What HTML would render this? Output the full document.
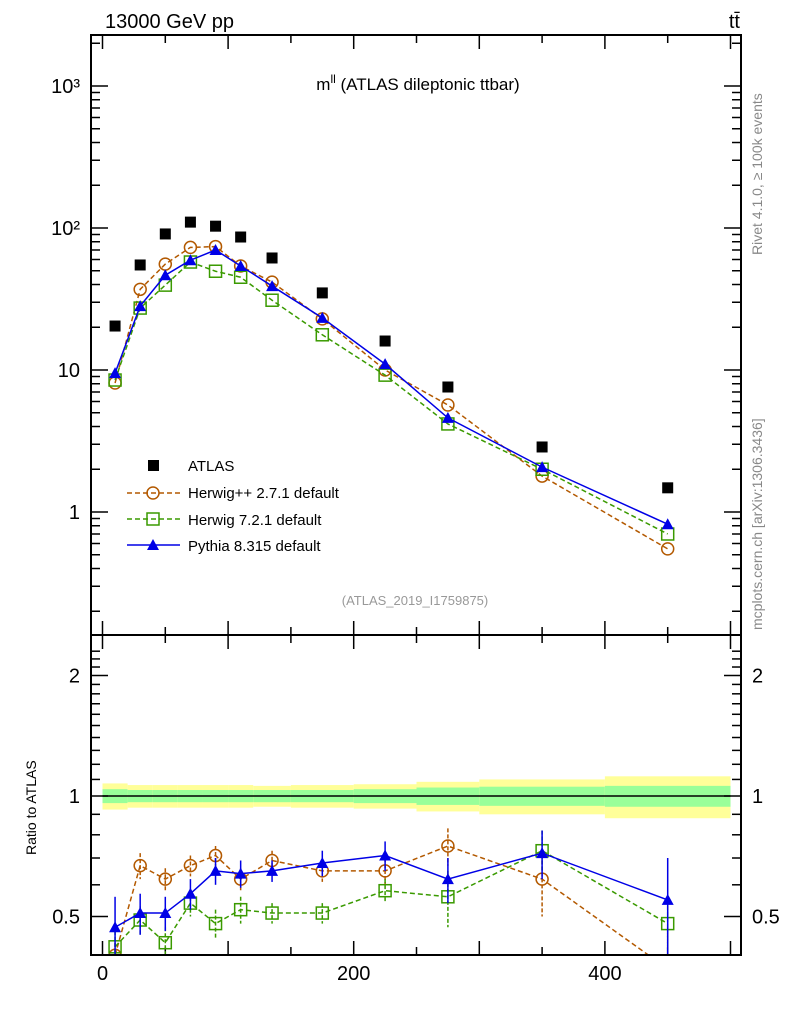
<!DOCTYPE html>
<html><head><meta charset="utf-8"><style>
body{margin:0;background:#fff}
svg{display:block;font-family:"Liberation Sans",sans-serif}
</style></head><body>
<svg id="c" width="786" height="1024" xmlns="http://www.w3.org/2000/svg">
<rect width="786" height="1024" fill="#fff"/>
<g id="bands"></g>
<g id="grid"></g>
<g id="series"></g>
<rect x="91" y="35" width="650" height="600" fill="none" stroke="#000" stroke-width="2"/>
<rect x="91" y="635" width="650" height="320" fill="none" stroke="#000" stroke-width="2"/>
<text x="105" y="28" font-size="20">13000 GeV pp</text>
<text x="740" y="28" font-size="20" text-anchor="end">tt̄</text>
<text x="418" y="90" font-size="17" text-anchor="middle">m<tspan font-size="12" dy="-7">ll</tspan><tspan dy="7"> (ATLAS dileptonic ttbar)</tspan></text>
<text x="415" y="605" font-size="13" fill="#999" text-anchor="middle">(ATLAS_2019_I1759875)</text>
<text transform="translate(762,255) rotate(-90)" font-size="14" fill="#888">Rivet 4.1.0, ≥ 100k events</text>
<text transform="translate(762,630) rotate(-90)" font-size="14" fill="#888">mcplots.cern.ch [arXiv:1306.3436]</text>
<text transform="translate(36,855) rotate(-90)" font-size="14">Ratio to ATLAS</text>
<g id="legend">
<rect x="148" y="460" width="11" height="11" fill="#000"/>
<text x="188" y="471" font-size="15">ATLAS</text>
<line x1="127" y1="493" x2="180" y2="493" stroke="#b35900" stroke-width="1.5" stroke-dasharray="5,3"/>
<circle cx="153" cy="493" r="6" fill="none" stroke="#b35900" stroke-width="1.5"/>
<text x="188" y="498" font-size="15">Herwig++ 2.7.1 default</text>
<line x1="127" y1="519" x2="180" y2="519" stroke="#3a9a00" stroke-width="1.5" stroke-dasharray="5,3"/>
<rect x="147" y="513" width="12" height="12" fill="none" stroke="#3a9a00" stroke-width="1.5"/>
<text x="188" y="525" font-size="15">Herwig 7.2.1 default</text>
<line x1="127" y1="545" x2="180" y2="545" stroke="#0000e6" stroke-width="1.5"/>
<path d="M147,550 L159,550 L153,539 Z" fill="#0000e6"/>
<text x="188" y="551" font-size="15">Pythia 8.315 default</text>
</g>
</svg>
<script>
const xs=[10,30,50,70,90,110,135,175,225,275,350,450];
const edges=[0,20,40,60,80,100,120,150,200,250,300,400,500];
const atlas=[20.4,54.9,90.8,110,103,86.4,61.5,34.9,16.0,7.59,2.87,1.48];
const herwigpp=[8.1,37,55.7,73,74,54,41.6,22.9,10,5.67,1.79,0.55];
const herwig7=[8.5,27.3,39.6,57.6,49.6,45,31,17.7,9.2,4.17,2.0,0.7];
const pythia=[9.5,28.2,46.5,59.3,70,54,39,23.3,11,4.6,2.07,0.82];
const rHpp=[0.40,0.67,0.62,0.67,0.71,0.62,0.69,0.65,0.65,0.75,0.62,0.37];
const rH7=[0.42,0.49,0.43,0.54,0.48,0.52,0.51,0.51,0.58,0.56,0.73,0.48];
const rPy=[0.47,0.51,0.51,0.57,0.65,0.64,0.65,0.68,0.71,0.62,0.72,0.55];
const errHpp=[0.03,0.05,0.04,0.04,0.04,0.04,0.04,0.04,0.05,0.08,0.12,0.1];
const errH7=[0.04,0.04,0.04,0.04,0.04,0.04,0.03,0.03,0.04,0.09,0.09,0.07];
const errPy=[0.09,0.06,0.05,0.05,0.05,0.05,0.04,0.05,0.06,0.08,0.1,0.15];
const bandInner=[0.04,0.035,0.035,0.035,0.035,0.035,0.035,0.035,0.04,0.05,0.055,0.06];
const bandOuter=[0.075,0.065,0.065,0.065,0.065,0.065,0.06,0.065,0.07,0.085,0.1,0.12];
const xTicks=[0,200,400];
const yTicks=[[1000,'10³'],[100,'10²'],[10,'10'],[1,'1']];
const rTicks=[2,1,0.5];

const NS='http://www.w3.org/2000/svg';
const X=v=>102.5+v*1.256;
const Y=v=>512-142*Math.log10(v);
const R=v=>796-120.5*Math.log2(v);
function mk(p,t,a){const e=document.createElementNS(NS,t);for(const k in a)e.setAttribute(k,a[k]);p.appendChild(e);return e;}
const G=document.getElementById('grid'),S=document.getElementById('series'),B=document.getElementById('bands');

edges.slice(0,-1).forEach((e,i)=>{
  const o=mk(B,'rect',{x:X(e),y:R(1+bandOuter[i]),width:X(edges[i+1])-X(e),height:R(1-bandOuter[i])-R(1+bandOuter[i]),fill:'#ffff99'});
  
  
  const n=mk(B,'rect',{x:X(e),y:R(1+bandInner[i]),width:X(edges[i+1])-X(e),height:R(1-bandInner[i])-R(1+bandInner[i]),fill:'#99ff99'});
  
  
});
mk(B,'line',{x1:X(0),x2:X(500),y1:R(1),y2:R(1),stroke:'#000','stroke-width':1.5});

for(let v=0;v<=500;v+=50){
  const L=(v%100===0)?14:8;
  [[635,-1],[955,-1],[35,1]].forEach(([y,d])=>{mk(G,'line',{x1:X(v),x2:X(v),y1:y,y2:y+d*L,stroke:'#000','stroke-width':1.5});});
  mk(G,'line',{x1:X(v),x2:X(v),y1:635,y2:635+L,stroke:'#000','stroke-width':1.5});
}
xTicks.forEach(v=>{const t=mk(G,'text',{x:X(v),y:980,'font-size':20,'text-anchor':'middle'});t.textContent=v;

});
for(let d=-1;d<=3;d++)for(let m=1;m<=9;m++){const v=m*Math.pow(10,d);const y=Y(v);if(y<35||y>635)continue;const L=m===1?17:9;
  mk(G,'line',{x1:91,x2:91+L,y1:y,y2:y,stroke:'#000','stroke-width':1.5});mk(G,'line',{x1:741,x2:741-L,y1:y,y2:y,stroke:'#000','stroke-width':1.5});}
yTicks.forEach(([v,l])=>{const t=mk(G,'text',{x:80,y:Y(v)+7,'font-size':20,'text-anchor':'end'});t.textContent=l;

});
for(let v=0.2;v<=2.35;v+=0.1){const vv=Math.round(v*10)/10;const y=R(vv);if(y<635||y>955)continue;const L=(vv===1||vv===2||vv===0.5)?17:9;
  mk(G,'line',{x1:91,x2:91+L,y1:y,y2:y,stroke:'#000','stroke-width':1.5});mk(G,'line',{x1:741,x2:741-L,y1:y,y2:y,stroke:'#000','stroke-width':1.5});}
rTicks.forEach(v=>{[[80,'end'],[752,'start']].forEach(([x,a])=>{const t=mk(G,'text',{x:x,y:R(v)+7,'font-size':20,'text-anchor':a});t.textContent=v;

});});

const defs=mk(S,'defs',{});
const c1=mk(defs,'clipPath',{id:'cm'});mk(c1,'rect',{x:91,y:35,width:650,height:600});
const c2=mk(defs,'clipPath',{id:'cr'});mk(c2,'rect',{x:91,y:635,width:650,height:320});
const gm=mk(S,'g',{'clip-path':'url(#cm)'}),gr=mk(S,'g',{'clip-path':'url(#cr)'});

function marker(g,x,y,type,col,name){
  let e;
  if(type==='c')e=mk(g,'circle',{cx:x,cy:y,r:6,fill:'none',stroke:col,'stroke-width':1.5});
  else if(type==='s')e=mk(g,'rect',{x:x-6,y:y-6,width:12,height:12,fill:'none',stroke:col,'stroke-width':1.5});
  else if(type==='t')e=mk(g,'path',{d:`M${x-6},${y+5}L${x+6},${y+5}L${x},${y-6}Z`,fill:col});
  else e=mk(g,'rect',{x:x-5.5,y:y-5.5,width:11,height:11,fill:col});
  
  
}
function series(g,vals,yf,type,col,dash,name,errs){
  const pts=xs.map((x,i)=>X(x)+','+yf(vals[i])).join(' ');
  const l=mk(g,'polyline',{points:pts,fill:'none',stroke:col,'stroke-width':1.5});
  if(dash)l.setAttribute('stroke-dasharray','5,3');
  
  
  xs.forEach((x,i)=>{
    if(errs){mk(g,'line',{x1:X(x),x2:X(x),y1:yf(vals[i]+errs[i]),y2:yf(Math.max(0.05,vals[i]-errs[i])),stroke:col,'stroke-width':1.5,'stroke-dasharray':dash?'4,2':''});}
    marker(g,X(x),yf(vals[i]),type,col,name+'-point');
  });
}
xs.forEach((x,i)=>marker(gm,X(x),Y(atlas[i]),'f','#000','atlas-point'));
series(gm,herwigpp,Y,'c','#b35900',true,'herwigpp');
series(gm,herwig7,Y,'s','#3a9a00',true,'herwig7');
series(gm,pythia,Y,'t','#0000e6',false,'pythia');
series(gr,rHpp,R,'c','#b35900',true,'ratio-herwigpp',errHpp);
series(gr,rH7,R,'s','#3a9a00',true,'ratio-herwig7',errH7);
series(gr,rPy,R,'t','#0000e6',false,'ratio-pythia',errPy);
</script>
</body></html>
